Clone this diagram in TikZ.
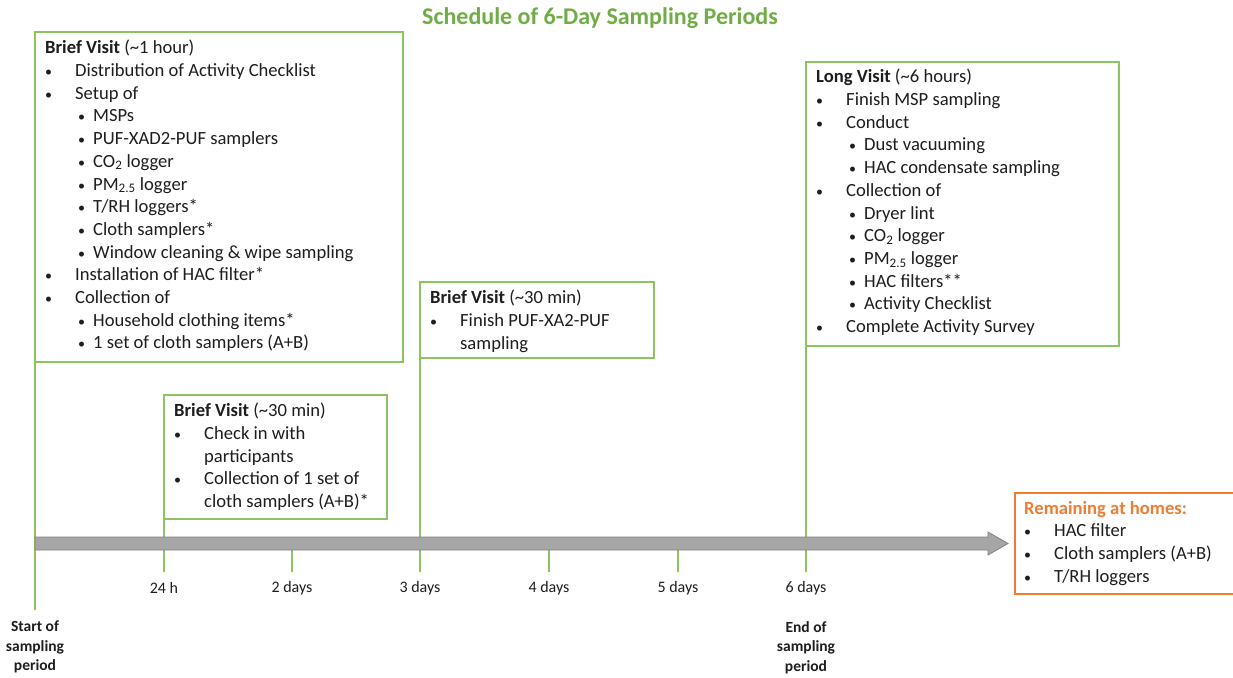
\documentclass[tikz,border=0pt]{standalone}
\usepackage{fontspec}
\setmainfont{Carlito}
\definecolor{ttl}{RGB}{112,173,71}
\definecolor{bgrn}{RGB}{140,196,96}
\definecolor{org}{RGB}{237,125,49}
\definecolor{axfill}{RGB}{166,166,166}
\definecolor{axdraw}{RGB}{128,128,128}
\definecolor{ink}{RGB}{30,30,30}
\newcommand\bul{{\fontsize{14}{14}\selectfont\textbullet}}
\newcommand\bl[1]{\makebox[30pt][l]{\bul}#1}
\newcommand\sbl[1]{\hspace*{33pt}\makebox[15pt][l]{\bul}#1}
\newcommand\cont[1]{\hspace*{30pt}#1}
\begin{document}
\begin{tikzpicture}[x=1pt,y=-1pt,
 gbox/.style={draw=bgrn,line width=1.5pt,outer sep=0pt,inner sep=0pt,anchor=north west},
 body/.style={anchor=north west,inner sep=0pt,align=left,text=ink,font=\fontsize{18.6}{22.7}\selectfont},
 link/.style={draw=bgrn,line width=1.5pt},
 tlab/.style={text=ink,font=\fontsize{16}{18}\selectfont,inner sep=0pt},
 elab/.style={text=ink,font=\bfseries\fontsize{15.5}{19.5}\selectfont,align=center,inner sep=0pt,anchor=north}]
\useasboundingbox (0,0) rectangle (1233,677);
\fill[white] (0,0) rectangle (1233,677);
\node[font=\bfseries\fontsize{24}{28}\selectfont,text=ttl] (title) at (600,18) {Schedule of 6-Day Sampling Periods};
% boxes
\node[gbox,minimum width=368pt,minimum height=330pt] (b1) at (35,32) {};
\node[gbox,minimum width=223pt,minimum height=124pt] (b2) at (164,395) {};
\node[gbox,minimum width=234pt,minimum height=76pt] (b3) at (420,282) {};
\node[gbox,minimum width=313pt,minimum height=284pt] (b4) at (806,62) {};
\node[gbox,draw=org,minimum width=230pt,minimum height=101pt] (b5) at (1015,493) {};
% axis coordinates
\coordinate (s0) at (35,610);
\coordinate (t1) at (164,572);
\coordinate (a2) at (292,549);
\coordinate (t2) at (292,572);
\coordinate (t3) at (420,572);
\coordinate (a4) at (549,549);
\coordinate (t4) at (549,572);
\coordinate (a5) at (678,549);
\coordinate (t5) at (678,572);
\coordinate (t6) at (806,572);
\draw[link] (b1.south west) -- (s0);
\draw[link] (b2.south west) -- (t1);
\draw[link] (b3.south west) -- (t3);
\draw[link] (b4.south west) -- (t6);
\draw[link] (a2) -- (t2);
\draw[link] (a4) -- (t4);
\draw[link] (a5) -- (t5);
% timeline arrow
\draw[fill=axfill,draw=axdraw,line width=0.8pt] (35,537) -- (988,537) -- (988,532) -- (1008,543.5) -- (988,555) -- (988,550) -- (35,550) -- cycle;
% tick labels
\node[tlab] (l1) at (164,588) {24 h};
\node[tlab] (l2) at (292,588) {2 days};
\node[tlab] (l3) at (420,588) {3 days};
\node[tlab] (l4) at (549,588) {4 days};
\node[tlab] (l5) at (678,588) {5 days};
\node[tlab] (l6) at (806,588) {6 days};
\node[elab] (st) at (35,621) {Start of\\sampling\\period};
\node[elab] (en) at (806,621) {End of\\sampling\\period};
% box contents
\node[body] (c1) at (45,40) {\textbf{Brief Visit} (\textasciitilde1 hour)\\
 \bl{Distribution of Activity Checklist}\\
 \bl{Setup of}\\
 \sbl{MSPs}\\
 \sbl{PUF-XAD2-PUF samplers}\\
 \sbl{CO\textsubscript{2} logger}\\
 \sbl{PM\textsubscript{2.5} logger}\\
 \sbl{T/RH loggers*}\\
 \sbl{Cloth samplers*}\\
 \sbl{Window cleaning \& wipe sampling}\\
 \bl{Installation of HAC filter*}\\
 \bl{Collection of}\\
 \sbl{Household clothing items*}\\
 \sbl{1 set of cloth samplers (A+B)}};
\node[body] (c2) at (174,403) {\textbf{Brief Visit} (\textasciitilde30 min)\\
 \bl{Check in with}\\
 \cont{participants}\\
 \bl{Collection of 1 set of}\\
 \cont{cloth samplers (A+B)*}};
\node[body] (c3) at (430,290) {\textbf{Brief Visit} (\textasciitilde30 min)\\
 \bl{Finish PUF-XA2-PUF}\\
 \cont{sampling}};
\node[body] (c4) at (816,69) {\textbf{Long Visit} (\textasciitilde6 hours)\\
 \bl{Finish MSP sampling}\\
 \bl{Conduct}\\
 \sbl{Dust vacuuming}\\
 \sbl{HAC condensate sampling}\\
 \bl{Collection of}\\
 \sbl{Dryer lint}\\
 \sbl{CO\textsubscript{2} logger}\\
 \sbl{PM\textsubscript{2.5} logger}\\
 \sbl{HAC filters**}\\
 \sbl{Activity Checklist}\\
 \bl{Complete Activity Survey}};
\node[body] (c5) at (1024,501) {\textcolor{org}{\textbf{Remaining at homes:}}\\
 \bl{HAC filter}\\
 \bl{Cloth samplers (A+B)}\\
 \bl{T/RH loggers}};
\end{tikzpicture}
\end{document}
